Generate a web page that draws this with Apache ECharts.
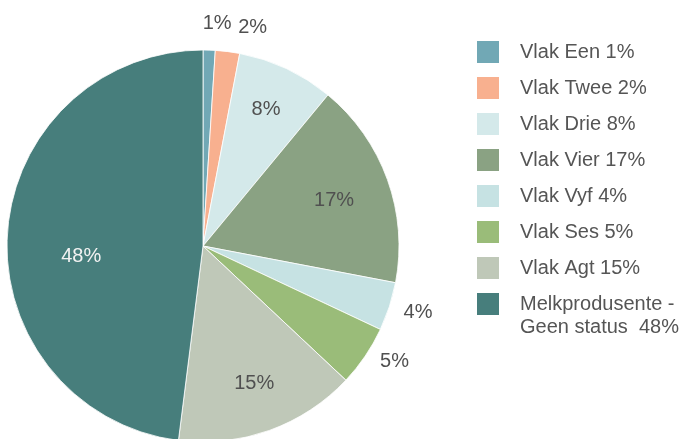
<!DOCTYPE html>
<html>
<head>
<meta charset="utf-8">
<script src="https://cdn.jsdelivr.net/npm/echarts@6/dist/echarts.min.js"></script>
<style>
  html, body { margin: 0; padding: 0; background: #fff; }
  #main { width: 692px; height: 439px; }
</style>
</head>
<body>
<div id="main"></div>
<script>
// data
var names = ['Vlak Een', 'Vlak Twee', 'Vlak Drie', 'Vlak Vier', 'Vlak Vyf', 'Vlak Ses', 'Vlak Agt', 'Melkprodusente -\nGeen status '];
var values = [1, 2, 8, 17, 4, 5, 15, 48];

// styling
var colors = ['#71a8b5', '#f8b08f', '#d4e9ea', '#8aa283', '#c6e2e3', '#9abc79', '#bfc8b8', '#477e7c'];
// label shift away from the default inside spot (px)
var labelShift = [[11, -122], [37, -118], [20, -45], [36, -11], [119, 35], [108, 59], [17, 42], [-21, 17]];

var chart = echarts.init(document.getElementById('main'));

var pieData = [];
for (var i = 0; i < values.length; i++) {
  pieData.push({
    name: names[i],
    value: values[i],
    itemStyle: { color: colors[i] },
    label: {
      offset: labelShift[i],
      color: i === values.length - 1 ? '#f2f2f2' : '#505050'
    }
  });
}

var legendBase = {
  orient: 'vertical',
  left: 475,
  padding: 0,
  itemWidth: 24,
  itemHeight: 24,
  itemGap: 10,
  icon: 'rect',
  textStyle: {
    fontFamily: 'Liberation Sans',
    fontSize: 20,
    color: '#555555',
    lineHeight: 23,
    padding: [0, 0, 0, 15]
  }
};

chart.setOption({
  animation: false,
  legend: [
    Object.assign({}, legendBase, {
      top: 39,
      data: names.slice(0, 7),
      formatter: function (name) {
        return name + ' ' + values[names.indexOf(name)] + '%';
      }
    }),
    // two-line entry: empty first line keeps "Melkprodusente -" level with the square
    Object.assign({}, legendBase, {
      top: 269.5,
      data: names.slice(7),
      formatter: function (name) {
        return '\n' + name + ' ' + values[names.indexOf(name)] + '%';
      }
    })
  ],
  series: [{
    type: 'pie',
    center: [203, 246],
    radius: 196,
    startAngle: 90,
    clockwise: true,
    avoidLabelOverlap: false,
    itemStyle: { borderColor: '#ffffff', borderWidth: 0.8 },
    label: {
      show: true,
      position: 'inside',
      formatter: '{c}%',
      fontFamily: 'Liberation Sans',
      fontSize: 20
    },
    labelLine: { show: false },
    emphasis: { disabled: true },
    data: pieData
  }]
});
</script>
</body>
</html>
